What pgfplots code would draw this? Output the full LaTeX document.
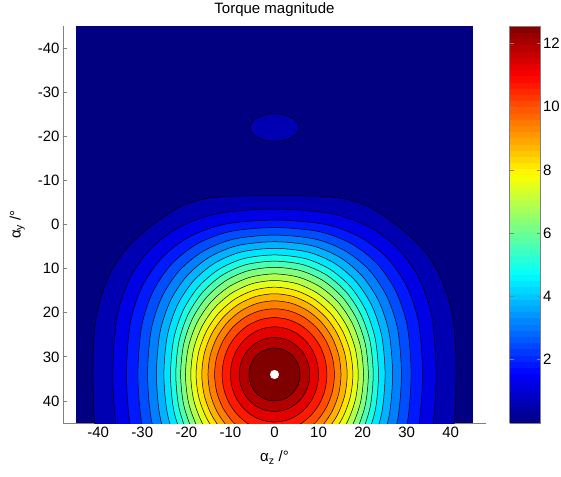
\documentclass[border=0pt]{standalone}
\usepackage{pgfplots}
\pgfplotsset{compat=1.18}
\usepackage{fontspec}
\setmainfont{Liberation Sans}

% jet colours of the filled bands (band 0 = background, band 20 = peak)
\definecolor{c0}{rgb}{0,0,0.5}
\definecolor{c1}{rgb}{0,0,0.7}
\definecolor{c2}{rgb}{0,0,0.9}
\definecolor{c3}{rgb}{0,0.1,1}
\definecolor{c4}{rgb}{0,0.3,1}
\definecolor{c5}{rgb}{0,0.5,1}
\definecolor{c6}{rgb}{0,0.7,1}
\definecolor{c7}{rgb}{0,0.9,1}
\definecolor{c8}{rgb}{0.1,1,0.9}
\definecolor{c9}{rgb}{0.3,1,0.7}
\definecolor{c10}{rgb}{0.5,1,0.5}
\definecolor{c11}{rgb}{0.7,1,0.3}
\definecolor{c12}{rgb}{0.9,1,0.1}
\definecolor{c13}{rgb}{1,0.9,0}
\definecolor{c14}{rgb}{1,0.7,0}
\definecolor{c15}{rgb}{1,0.5,0}
\definecolor{c16}{rgb}{1,0.3,0}
\definecolor{c17}{rgb}{1,0.1,0}
\definecolor{c18}{rgb}{0.9,0,0}
\definecolor{c19}{rgb}{0.7,0,0}
\definecolor{c20}{rgb}{0.5,0,0}

\pgfplotsset{ctr/.style={smooth, draw=black, line width=0.5pt, fill=#1}}

\begin{document}
\begin{tikzpicture}
\begin{axis}[
  name=main,
  scale only axis,
  width=423pt, height=397pt,
  xmin=-48, xmax=48, ymin=-45, ymax=45,
  y dir=reverse,
  axis x line*=bottom, axis y line*=left,
  axis line style={black!50, line width=0.8pt},
  tick align=inside,
  major tick length=4pt,
  tick style={black!50, line width=0.8pt},
  xtick={-40,-30,...,40}, ytick={-40,-30,...,40},
  /pgf/number format/assume math mode=true,
  tick label style={font=\fontsize{15}{17}\selectfont},
  label style={font=\fontsize{15}{17}\selectfont},
  title style={font=\fontsize{15}{17}\selectfont},
  title={Torque magnitude},
  xlabel={α\textsubscript{z} /°},
  ylabel={α\textsubscript{y} /°},
  xlabel shift=7pt,
  ylabel shift=6pt,
  colormap/jet,
  point meta min=0, point meta max=12.55,
  colorbar, colorbar sampled,
  colorbar style={
    at={(parent axis.north east)}, anchor=north west, xshift=15pt,
    scale only axis, width=31pt, height=397pt,
    samples=65,
    ytick={2,4,...,12},
    ytick align=inside, ytick pos=both, yticklabel pos=right,
    major tick length=4pt,
    axis line style={black!50, line width=0.8pt},
    tick style={black!50, line width=0.8pt},
    tick label style={font=\fontsize{15}{17}\selectfont},
    yticklabel style={xshift=-1pt},
    /pgf/number format/assume math mode=true,
  },
]
% background band
\addplot[draw=none, fill=c0] coordinates {(-45,-45) (45,-45) (45,45) (-45,45)} -- cycle;
% small island above
\addplot[ctr=c1] coordinates {(0,-18.9) (1.45,-19.01) (2.8,-19.32) (3.96,-19.81) (4.85,-20.45) (5.41,-21.2) (5.6,-22) (5.41,-22.8) (4.85,-23.55) (3.96,-24.19) (2.8,-24.68) (1.45,-24.99) (0,-25.1) (-1.45,-24.99) (-2.8,-24.68) (-3.96,-24.19) (-4.85,-23.55) (-5.41,-22.8) (-5.6,-22) (-5.41,-21.2) (-4.85,-20.45) (-3.96,-19.81) (-2.8,-19.32) (-1.45,-19.01) (0,-18.9)} -- cycle;
% contour levels, outermost first
\addplot[ctr=c1] coordinates {(0,74.5) (20,70) (37,57.5) (40.3,48) (41,42) (41.2,34) (41,26) (40.3,20) (38.9,15) (37,10.5) (34.6,6.7) (31.8,3.6) (28.5,0.7) (24.8,-2) (20.8,-4.3) (16,-5.8) (10,-6.4) (0,-6.5) (-10,-6.4) (-16,-5.8) (-20.8,-4.3) (-24.8,-2) (-28.5,0.7) (-31.8,3.6) (-34.6,6.7) (-37,10.5) (-38.9,15) (-40.3,20) (-41,26) (-41.2,34) (-41,42) (-40.3,48) (-37,57.5) (-20,70) (0,74.5)} -- cycle;
\addplot[ctr=c2] coordinates {(0,71.5) (12.79,70.5) (21.37,67.52) (28.01,62.62) (32.81,55.84) (35.72,47.07) (36.7,34) (35.72,20.93) (32.81,12.16) (28.01,5.38) (21.37,0.48) (12.79,-2.5) (0,-3.5) (-12.79,-2.5) (-21.37,0.48) (-28.01,5.38) (-32.81,12.16) (-35.72,20.93) (-36.7,34) (-35.72,47.07) (-32.81,55.84) (-28.01,62.62) (-21.37,67.52) (-12.79,70.5) (0,71.5)} -- cycle;
\addplot[ctr=c3] coordinates {(0,69) (11.39,68.04) (19.3,65.2) (25.47,60.53) (29.95,54.1) (32.68,45.87) (33.6,34) (32.68,22.13) (29.95,13.9) (25.47,7.47) (19.3,2.8) (11.39,-0.04) (0,-1) (-11.39,-0.04) (-19.3,2.8) (-25.47,7.47) (-29.95,13.9) (-32.68,22.13) (-33.6,34) (-32.68,45.87) (-29.95,54.1) (-25.47,60.53) (-19.3,65.2) (-11.39,68.04) (0,69)} -- cycle;
\addplot[ctr=c4] coordinates {(0,67.3) (10.23,66.37) (17.56,63.59) (23.33,59.06) (27.55,52.86) (30.13,44.99) (31,34) (30.13,23.01) (27.55,15.14) (23.33,8.94) (17.56,4.41) (10.23,1.63) (0,0.7) (-10.23,1.63) (-17.56,4.41) (-23.33,8.94) (-27.55,15.14) (-30.13,23.01) (-31,34) (-30.13,44.99) (-27.55,52.86) (-23.33,59.06) (-17.56,63.59) (-10.23,66.37) (0,67.3)} -- cycle;
\addplot[ctr=c5] coordinates {(0,65.6) (9.25,64.69) (16.09,62) (21.53,57.62) (25.52,51.65) (27.97,44.15) (28.8,34) (27.97,23.85) (25.52,16.35) (21.53,10.38) (16.09,6) (9.25,3.31) (0,2.4) (-9.25,3.31) (-16.09,6) (-21.53,10.38) (-25.52,16.35) (-27.97,23.85) (-28.8,34) (-27.97,44.15) (-25.52,51.65) (-21.53,57.62) (-16.09,62) (-9.25,64.69) (0,65.6)} -- cycle;
\addplot[ctr=c6] coordinates {(0,64.1) (8.38,63.22) (14.77,60.6) (19.89,56.34) (23.68,50.59) (26.01,43.41) (26.8,34) (26.01,24.59) (23.68,17.41) (19.89,11.66) (14.77,7.4) (8.38,4.78) (0,3.9) (-8.38,4.78) (-14.77,7.4) (-19.89,11.66) (-23.68,17.41) (-26.01,24.59) (-26.8,34) (-26.01,43.41) (-23.68,50.59) (-19.89,56.34) (-14.77,60.6) (-8.38,63.22) (0,64.1)} -- cycle;
\addplot[ctr=c7] coordinates {(0,62.6) (7.64,61.74) (13.64,59.2) (18.5,55.08) (22.12,49.54) (24.34,42.71) (25.1,34) (24.34,25.29) (22.12,18.46) (18.5,12.92) (13.64,8.8) (7.64,6.26) (0,5.4) (-7.64,6.26) (-13.64,8.8) (-18.5,12.92) (-22.12,18.46) (-24.34,25.29) (-25.1,34) (-24.34,42.71) (-22.12,49.54) (-18.5,55.08) (-13.64,59.2) (-7.64,61.74) (0,62.6)} -- cycle;
\addplot[ctr=c8] coordinates {(0,61.1) (6.99,60.27) (12.65,57.81) (17.28,53.84) (20.73,48.52) (22.88,42.03) (23.6,34) (22.88,25.97) (20.73,19.48) (17.28,14.16) (12.65,10.19) (6.99,7.73) (0,6.9) (-6.99,7.73) (-12.65,10.19) (-17.28,14.16) (-20.73,19.48) (-22.88,25.97) (-23.6,34) (-22.88,42.03) (-20.73,48.52) (-17.28,53.84) (-12.65,57.81) (-6.99,60.27) (0,61.1)} -- cycle;
\addplot[ctr=c9] coordinates {(0,59.7) (6.46,58.89) (11.84,56.52) (16.28,52.68) (19.62,47.58) (21.7,41.41) (22.4,34) (21.7,26.59) (19.62,20.42) (16.28,15.32) (11.84,11.48) (6.46,9.11) (0,8.3) (-6.46,9.11) (-11.84,11.48) (-16.28,15.32) (-19.62,20.42) (-21.7,26.59) (-22.4,34) (-21.7,41.41) (-19.62,47.58) (-16.28,52.68) (-11.84,56.52) (-6.46,58.89) (0,59.7)} -- cycle;
\addplot[ctr=c10] coordinates {(0,58.3) (5.98,57.52) (11.1,55.23) (15.38,51.54) (18.61,46.67) (20.62,40.82) (21.3,34) (20.62,27.18) (18.61,21.33) (15.38,16.46) (11.1,12.77) (5.98,10.48) (0,9.7) (-5.98,10.48) (-11.1,12.77) (-15.38,16.46) (-18.61,21.33) (-20.62,27.18) (-21.3,34) (-20.62,40.82) (-18.61,46.67) (-15.38,51.54) (-11.1,55.23) (-5.98,57.52) (0,58.3)} -- cycle;
\addplot[ctr=c11] coordinates {(0,56.8) (5.52,56.05) (10.38,53.86) (14.48,50.35) (17.59,45.72) (19.54,40.23) (20.2,34) (19.54,27.77) (17.59,22.28) (14.48,17.65) (10.38,14.14) (5.52,11.95) (0,11.2) (-5.52,11.95) (-10.38,14.14) (-14.48,17.65) (-17.59,22.28) (-19.54,27.77) (-20.2,34) (-19.54,40.23) (-17.59,45.72) (-14.48,50.35) (-10.38,53.86) (-5.52,56.05) (0,56.8)} -- cycle;
\addplot[ctr=c12] coordinates {(0,55.3) (5.05,54.59) (9.63,52.5) (13.53,49.17) (16.5,44.8) (18.37,39.66) (19,34) (18.37,28.34) (16.5,23.2) (13.53,18.83) (9.63,15.5) (5.05,13.41) (0,12.7) (-5.05,13.41) (-9.63,15.5) (-13.53,18.83) (-16.5,23.2) (-18.37,28.34) (-19,34) (-18.37,39.66) (-16.5,44.8) (-13.53,49.17) (-9.63,52.5) (-5.05,54.59) (0,55.3)} -- cycle;
\addplot[ctr=c13] coordinates {(0,53.8) (4.61,53.12) (8.9,51.15) (12.59,48) (15.41,43.9) (17.19,39.12) (17.8,34) (17.19,28.88) (15.41,24.1) (12.59,20) (8.9,16.85) (4.61,14.88) (0,14.2) (-4.61,14.88) (-8.9,16.85) (-12.59,20) (-15.41,24.1) (-17.19,28.88) (-17.8,34) (-17.19,39.12) (-15.41,43.9) (-12.59,48) (-8.9,51.15) (-4.61,53.12) (0,53.8)} -- cycle;
\addplot[ctr=c14] coordinates {(0,52.3) (4.27,51.68) (8.25,49.85) (11.67,46.94) (14.29,43.15) (15.94,38.74) (16.5,34) (15.94,29.26) (14.29,24.85) (11.67,21.06) (8.25,18.15) (4.27,16.32) (0,15.7) (-4.27,16.32) (-8.25,18.15) (-11.67,21.06) (-14.29,24.85) (-15.94,29.26) (-16.5,34) (-15.94,38.74) (-14.29,43.15) (-11.67,46.94) (-8.25,49.85) (-4.27,51.68) (0,52.3)} -- cycle;
\addplot[ctr=c15] coordinates {(0,50.7) (3.91,50.13) (7.55,48.46) (10.68,45.81) (13.08,42.35) (14.59,38.32) (15.1,34) (14.59,29.68) (13.08,25.65) (10.68,22.19) (7.55,19.54) (3.91,17.87) (0,17.3) (-3.91,17.87) (-7.55,19.54) (-10.68,22.19) (-13.08,25.65) (-14.59,29.68) (-15.1,34) (-14.59,38.32) (-13.08,42.35) (-10.68,45.81) (-7.55,48.46) (-3.91,50.13) (0,50.7)} -- cycle;
\addplot[ctr=c16] coordinates {(0,48.9) (3.52,48.39) (6.8,46.9) (9.62,44.54) (11.78,41.45) (13.14,37.86) (13.6,34) (13.14,30.14) (11.78,26.55) (9.62,23.46) (6.8,21.1) (3.52,19.61) (0,19.1) (-3.52,19.61) (-6.8,21.1) (-9.62,23.46) (-11.78,26.55) (-13.14,30.14) (-13.6,34) (-13.14,37.86) (-11.78,41.45) (-9.62,44.54) (-6.8,46.9) (-3.52,48.39) (0,48.9)} -- cycle;
\addplot[ctr=c17] coordinates {(0,46.9) (3.08,46.46) (5.95,45.17) (8.41,43.12) (10.31,40.45) (11.49,37.34) (11.9,34) (11.49,30.66) (10.31,27.55) (8.41,24.88) (5.95,22.83) (3.08,21.54) (0,21.1) (-3.08,21.54) (-5.95,22.83) (-8.41,24.88) (-10.31,27.55) (-11.49,30.66) (-11.9,34) (-11.49,37.34) (-10.31,40.45) (-8.41,43.12) (-5.95,45.17) (-3.08,46.46) (0,46.9)} -- cycle;
\addplot[ctr=c18] coordinates {(0,44.8) (2.59,44.43) (5,43.35) (7.07,41.64) (8.66,39.4) (9.66,36.8) (10,34) (9.66,31.2) (8.66,28.6) (7.07,26.36) (5,24.65) (2.59,23.57) (0,23.2) (-2.59,23.57) (-5,24.65) (-7.07,26.36) (-8.66,28.6) (-9.66,31.2) (-10,34) (-9.66,36.8) (-8.66,39.4) (-7.07,41.64) (-5,43.35) (-2.59,44.43) (0,44.8)} -- cycle;
\addplot[ctr=c19] coordinates {(0,42.4) (2.07,42.11) (4,41.27) (5.66,39.94) (6.93,38.2) (7.73,36.17) (8,34) (7.73,31.83) (6.93,29.8) (5.66,28.06) (4,26.73) (2.07,25.89) (0,25.6) (-2.07,25.89) (-4,26.73) (-5.66,28.06) (-6.93,29.8) (-7.73,31.83) (-8,34) (-7.73,36.17) (-6.93,38.2) (-5.66,39.94) (-4,41.27) (-2.07,42.11) (0,42.4)} -- cycle;
\addplot[ctr=c20] coordinates {(0,40) (1.5,39.8) (2.9,39.2) (4.1,38.24) (5.02,37) (5.6,35.55) (5.8,34) (5.6,32.45) (5.02,31) (4.1,29.76) (2.9,28.8) (1.5,28.2) (0,28) (-1.5,28.2) (-2.9,28.8) (-4.1,29.76) (-5.02,31) (-5.6,32.45) (-5.8,34) (-5.6,35.55) (-5.02,37) (-4.1,38.24) (-2.9,39.2) (-1.5,39.8) (0,40)} -- cycle;
% maximum
\addplot[only marks, mark=*, mark size=4.3pt, mark options={draw=white, fill=white}] coordinates {(0,34)};
\coordinate (bl) at (axis cs:-48,45);
\end{axis}
\pgfresetboundingbox
\path[use as bounding box] (bl) ++(-63pt,-53pt) rectangle ++(561pt,476pt);
\end{tikzpicture}
\end{document}
